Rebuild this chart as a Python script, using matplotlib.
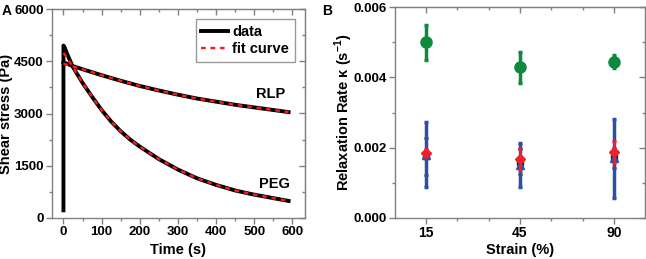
import numpy as np
import matplotlib
matplotlib.use('Agg')
import matplotlib.pyplot as plt
from matplotlib.ticker import MultipleLocator, FixedLocator

plt.rcParams['font.family'] = ['Liberation Sans', 'DejaVu Sans']
plt.rcParams['font.weight'] = 'bold'
plt.rcParams['mathtext.fontset'] = 'custom'
plt.rcParams['mathtext.rm'] = 'Liberation Sans:bold'
plt.rcParams['mathtext.bf'] = 'Liberation Sans:bold'

############################################################################
#                    Data                             #
############################################################################
# Panel A: stress relaxation
t_peg = [0, 0, 3, 10, 25, 50, 75, 100, 125, 150, 175, 200, 250, 300, 350, 400, 450, 500, 550, 590]
peg_data = [220, 4950, 4900, 4700, 4330, 3880, 3480, 3100, 2770, 2490, 2250, 2050, 1690, 1390, 1140, 950, 790, 670, 570, 490]
t_peg_fit = [0, 10, 25, 50, 75, 100, 125, 150, 175, 200, 250, 300, 350, 400, 450, 500, 550, 590]
peg_fit = [4740, 4590, 4330, 3880, 3480, 3100, 2770, 2490, 2250, 2050, 1690, 1390, 1140, 950, 790, 670, 570, 490]

t_rlp = [0, 25, 50, 100, 150, 200, 250, 300, 350, 400, 450, 500, 550, 590]
rlp_data = [4470, 4360, 4270, 4100, 3940, 3790, 3660, 3540, 3430, 3340, 3250, 3175, 3100, 3040]
rlp_fit = [4430, 4350, 4270, 4100, 3940, 3790, 3660, 3540, 3430, 3340, 3250, 3175, 3100, 3040]

a_xticks = [0, 100, 200, 300, 400, 500, 600]
a_yticks = [0, 1500, 3000, 4500, 6000]

# Panel B: relaxation rate vs strain
strain = ['15', '45', '90']
b_yticks = [0.000, 0.002, 0.004, 0.006]
green_k = [0.0050, 0.00428, 0.00445]
green_err = [0.0005, 0.00043, 0.00019]
black_k = [0.00175, 0.0016, 0.0017]
black_err = [0.00052, 0.00035, 0.00028]
blue_k = [0.0018, 0.0015, 0.0017]
blue_err = [0.00093, 0.00063, 0.00112]
red_k = [0.00185, 0.00168, 0.00187]
red_err = [0.0001, 0.00032, 0.00032]
############################################################################

spine_col = '#808080'
tick_fs = 9.5
lab_fs = 10.5

fig = plt.figure(figsize=(6.46, 2.59), dpi=100)


def style_axes(ax, xmin, ymin):
    for s in ax.spines.values():
        s.set_color(spine_col)
        s.set_linewidth(1.0)
    ax.xaxis.set_minor_locator(xmin)
    ax.yaxis.set_minor_locator(ymin)
    ax.tick_params(which='both', direction='out', colors=spine_col,
                   labelcolor='black', pad=2)
    ax.tick_params(which='major', length=4, width=1)
    ax.tick_params(which='minor', length=2, width=1)
    # mirrored ticks on top / right pointing inward (Origin style)
    top = ax.secondary_xaxis('top')
    top.xaxis.set_major_locator(FixedLocator(ax.get_xticks()))
    top.xaxis.set_minor_locator(xmin)
    top.tick_params(which='both', direction='in', colors=spine_col, labeltop=False)
    top.tick_params(which='major', length=4, width=1)
    top.tick_params(which='minor', length=2, width=1)
    top.spines['top'].set_color(spine_col)
    right = ax.secondary_yaxis('right')
    right.yaxis.set_major_locator(FixedLocator(ax.get_yticks()))
    right.yaxis.set_minor_locator(ymin)
    right.tick_params(which='both', direction='in', colors=spine_col, labelright=False)
    right.tick_params(which='major', length=4, width=1)
    right.tick_params(which='minor', length=2, width=1)
    right.spines['right'].set_color(spine_col)


# ---------------- Panel A ----------------
ax1 = fig.add_axes([52 / 646, 1 - 218 / 259, 253 / 646, 209 / 259])
ax1.plot(t_peg, peg_data, color='black', lw=2.8, label='data')
ax1.plot(t_rlp, rlp_data, color='black', lw=2.8)
ax1.plot(t_peg_fit, peg_fit, color='#ff1a1a', lw=1.7, ls=(0, (2, 2)), label='fit curve')
ax1.plot(t_rlp, rlp_fit, color='#ff1a1a', lw=1.7, ls=(0, (2, 2)))
ax1.set_xlim(-30, 633)
ax1.set_ylim(0, 6000)
ax1.set_xticks(a_xticks, labels=[str(v) for v in a_xticks], fontsize=tick_fs, fontweight='bold')
ax1.set_yticks(a_yticks, labels=[str(v) for v in a_yticks], fontsize=tick_fs, fontweight='bold')
style_axes(ax1, MultipleLocator(50), MultipleLocator(750))
ax1.set_xlabel('Time (s)', fontsize=lab_fs, fontweight='bold')
ax1.set_ylabel('Shear stress (Pa)', fontsize=lab_fs, fontweight='bold')
ax1.xaxis.set_label_coords(0.5, -0.155)
ax1.yaxis.set_label_coords(-0.182, 0.5)
ax1.xaxis.label.set_va('center')
ax1.yaxis.label.set_va('center')
ax1.text(542, 3560, 'RLP', fontsize=lab_fs, fontweight='bold', ha='center', va='center')
ax1.text(552, 990, 'PEG', fontsize=lab_fs, fontweight='bold', ha='center', va='center')
leg = ax1.legend(loc='upper right', fontsize=lab_fs, frameon=True, fancybox=False,
                 handlelength=1.8, handletextpad=0.3, borderpad=0.4, labelspacing=0.2,
                 borderaxespad=0.7)
leg.get_frame().set_edgecolor(spine_col)
leg.get_frame().set_linewidth(1.0)
for txt in leg.get_texts():
    txt.set_fontweight('bold')

# ---------------- Panel B ----------------
ax2 = fig.add_axes([395 / 646, 1 - 218 / 259, 250 / 646, 211 / 259])
x = np.arange(len(strain))
ax2.errorbar(x, black_k, yerr=black_err, fmt='s', color='#222222', ms=4, lw=2,
             capsize=1.5, capthick=2, zorder=2)
ax2.errorbar(x, blue_k, yerr=blue_err, fmt='^', color='#2d4fa6', ms=6, lw=2.5,
             capsize=1.5, capthick=2.5, zorder=3)
ax2.errorbar(x, red_k, yerr=red_err, fmt='D', color='#f0202a', ms=5, lw=2,
             capsize=1.5, capthick=2, zorder=4)
ax2.errorbar(x, green_k, yerr=green_err, fmt='o', color='#0d8a3e', ms=8, lw=2.5,
             capsize=1.5, capthick=2.5, zorder=5)
ax2.set_xlim(-0.33, 2.33)
ax2.set_ylim(0, 0.006)
ax2.set_xticks(x, labels=strain, fontsize=10, fontweight='bold')
ax2.set_yticks(b_yticks, labels=['%.3f' % v for v in b_yticks], fontsize=tick_fs, fontweight='bold')
style_axes(ax2, MultipleLocator(1 / 3), MultipleLocator(0.001))
ax2.set_xlabel('Strain (%)', fontsize=lab_fs, fontweight='bold')
ax2.set_ylabel('Relaxation Rate κ (s$^{-1}$)', fontsize=lab_fs, fontweight='bold')
ax2.xaxis.set_label_coords(0.5, -0.15)
ax2.yaxis.set_label_coords(-0.205, 0.5)
ax2.xaxis.label.set_va('center')
ax2.yaxis.label.set_va('center')

fig.text(0.003, 0.985, 'A', fontsize=10, fontweight='bold', va='top')
fig.text(322 / 646, 0.985, 'B', fontsize=10, fontweight='bold', va='top')

plt.savefig('out.png', dpi=100)
plt.close()
